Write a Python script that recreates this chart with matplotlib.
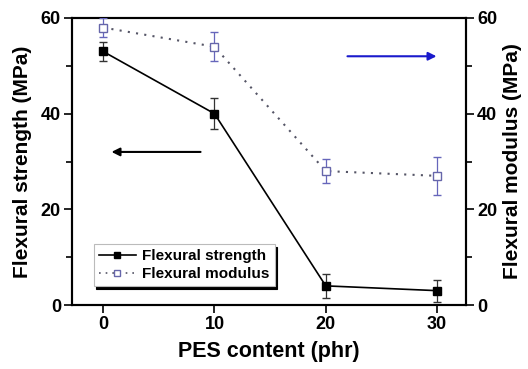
import matplotlib
matplotlib.use("Agg")
import matplotlib.pyplot as plt
from matplotlib.ticker import MultipleLocator
from matplotlib.lines import Line2D

plt.rcParams['font.family'] = ['Liberation Sans', 'DejaVu Sans']
plt.rcParams['font.weight'] = 'bold'

pes = [0, 10, 20, 30]
strength = [53, 40, 4, 3]
strength_err = [2, 3.3, 2.5, 2.3]
modulus = [58, 54, 28, 27]
modulus_err = [2, 3, 2.5, 4]

fig = plt.figure(figsize=(5.28, 3.69), dpi=100)
W, H = 528, 369
ax = fig.add_axes([72 / W, 1 - 305 / H, (466 - 72) / W, (305 - 18) / H])
ax2 = ax.twinx()

ax.errorbar(pes, strength, yerr=strength_err, color='black', marker='s', ms=6,
            lw=1.2, capsize=3, elinewidth=0.9, ecolor='#333333', zorder=3)
ax2.errorbar(pes, modulus, yerr=modulus_err, color='#555566', marker='s', ms=6,
             mfc='white', mec='#6666aa', lw=1.5, ls=(0, (1, 3)), capsize=3,
             elinewidth=0.9, ecolor='#6666bb', zorder=3)

for a in (ax, ax2):
    a.set_ylim(0, 60)
    a.yaxis.set_major_locator(MultipleLocator(20))
    a.yaxis.set_minor_locator(MultipleLocator(10))
    a.tick_params(axis='both', which='both', direction='out', width=1.2, labelsize=13, pad=2)
    a.tick_params(which='major', length=6)
    a.tick_params(which='minor', length=4)
    for s in a.spines.values():
        s.set_linewidth(1.5)
ax.set_xlim(-2.8, 32.6)
ax.set_xticks(pes)

ax.set_xlabel('PES content (phr)', fontsize=15.5, fontweight='bold', labelpad=6)
ax.set_ylabel('Flexural strength (MPa)', fontsize=15, fontweight='bold', labelpad=6)
ax2.set_ylabel('Flexural modulus (MPa)', fontsize=15, fontweight='bold', labelpad=4)

ax.annotate('', xy=(0.5, 32), xytext=(9, 32),
            arrowprops=dict(arrowstyle='-|>', color='black', lw=1.5, mutation_scale=12))
ax2.annotate('', xy=(30.2, 52), xytext=(21.7, 52),
             arrowprops=dict(arrowstyle='-|>', color='#1a1acc', lw=1.5, mutation_scale=12))

handles = [
    Line2D([], [], color='black', marker='s', ms=5, lw=1.2),
    Line2D([], [], color='#555566', marker='s', ms=5, mfc='white', mec='#6666aa',
           lw=1.2, ls=(0, (1, 3))),
]
labels = ['Flexural strength', 'Flexural modulus']
leg = ax.legend(handles, labels, loc='lower left', bbox_to_anchor=(0.055, 0.065),
                fontsize=11, frameon=True, fancybox=False,
                shadow={'color': 'black', 'alpha': 1.0},
                handlelength=2.4, handletextpad=0.4, borderpad=0.35, labelspacing=0.25,
                edgecolor='#bbbbbb', borderaxespad=0)
leg.get_frame().set_linewidth(0.8)

fig.savefig('out.png', dpi=100)
